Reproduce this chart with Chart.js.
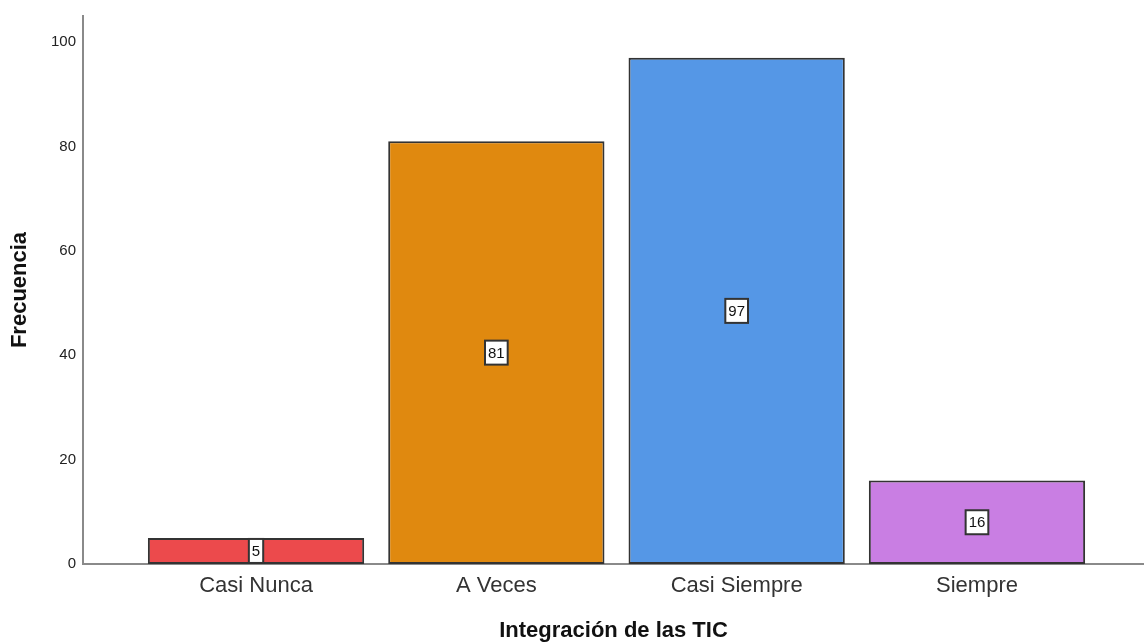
<!DOCTYPE html>
<html>
<head>
<meta charset="utf-8">
<script src="https://cdn.jsdelivr.net/npm/chart.js@4"></script>
<style>
  html, body { margin: 0; padding: 0; background: #fff; }
  #wrap { width: 1144px; height: 644px; }
</style>
</head>
<body>
<div id="wrap"><canvas id="freqChart"></canvas></div>
<script>
const categories = ["Casi Nunca", "A Veces", "Casi Siempre", "Siempre"];
const counts = [5, 81, 97, 16];
const barColors = ["#EC4A4C", "#E0890F", "#5597E6", "#C97EE3"];
const yTicks = [0, 20, 40, 60, 80, 100];

const FONT = "'Liberation Sans', Arial, sans-serif";

// white boxes with the count, centred at half the bar height
const valueBoxes = {
  id: "valueBoxes",
  afterDatasetsDraw(chart) {
    const ctx = chart.ctx;
    const yScale = chart.scales.y;
    const meta = chart.getDatasetMeta(0);
    ctx.save();
    ctx.font = `15px ${FONT}`;
    ctx.textAlign = "center";
    ctx.textBaseline = "middle";
    meta.data.forEach((bar, i) => {
      const txt = String(counts[i]);
      const cy = yScale.getPixelForValue(counts[i] / 2);
      const w = ctx.measureText(txt).width + 6;
      const h = 24;
      ctx.fillStyle = "#fff";
      ctx.fillRect(bar.x - w / 2, cy - h / 2, w, h);
      ctx.strokeStyle = "#333";
      ctx.lineWidth = 2;
      ctx.strokeRect(bar.x - w / 2, cy - h / 2, w, h);
      ctx.fillStyle = "#111";
      ctx.fillText(txt, bar.x, cy + 1);
    });
    ctx.restore();
  },
};

new Chart(document.getElementById("freqChart"), {
  type: "bar",
  data: {
    datasets: [{
      data: counts.map((v, i) => ({ x: i + 1, y: v })),
      backgroundColor: barColors,
      borderColor: "#333",
      borderWidth: 2,
      borderSkipped: false,
      categoryPercentage: 1,
      barPercentage: 0.9,
    }],
  },
  options: {
    responsive: true,
    maintainAspectRatio: false,
    animation: false,
    layout: { padding: { top: 11, right: 0, left: 0, bottom: 0 } },
    plugins: { legend: { display: false }, tooltip: { enabled: false } },
    scales: {
      x: {
        type: "linear",
        min: 0.28,
        max: 4.695,
        offset: false,
        grid: { display: false, drawTicks: false },
        border: { display: true, color: "#8a8a8a", width: 2 },
        afterBuildTicks: (scale) => { scale.ticks = categories.map((c, i) => ({ value: i + 1 })); },
        afterFit: (scale) => { scale.height = 80; },
        ticks: {
          padding: 9,
          color: "#333",
          font: { family: FONT, size: 22 },
          callback: (v) => categories[v - 1] ?? "",
        },
        title: {
          display: true,
          text: "Integración de las TIC",
          color: "#111",
          font: { family: FONT, size: 22, weight: "bold" },
          padding: { top: 0, bottom: 0 },
        },
      },
      y: {
        min: 0,
        max: 105,
        grid: { display: false, drawTicks: false },
        border: { display: true, color: "#8a8a8a", width: 2 },
        afterBuildTicks: (scale) => { scale.ticks = yTicks.map((v) => ({ value: v })); },
        afterFit: (scale) => { scale.width = 83; },
        ticks: {
          padding: 7,
          color: "#222",
          font: { family: FONT, size: 15 },
        },
        title: {
          display: true,
          text: "Frecuencia",
          color: "#111",
          font: { family: FONT, size: 22, weight: "bold" },
          padding: { top: 7, bottom: 0 },
        },
      },
    },
  },
  plugins: [valueBoxes],
});
</script>
</body>
</html>
